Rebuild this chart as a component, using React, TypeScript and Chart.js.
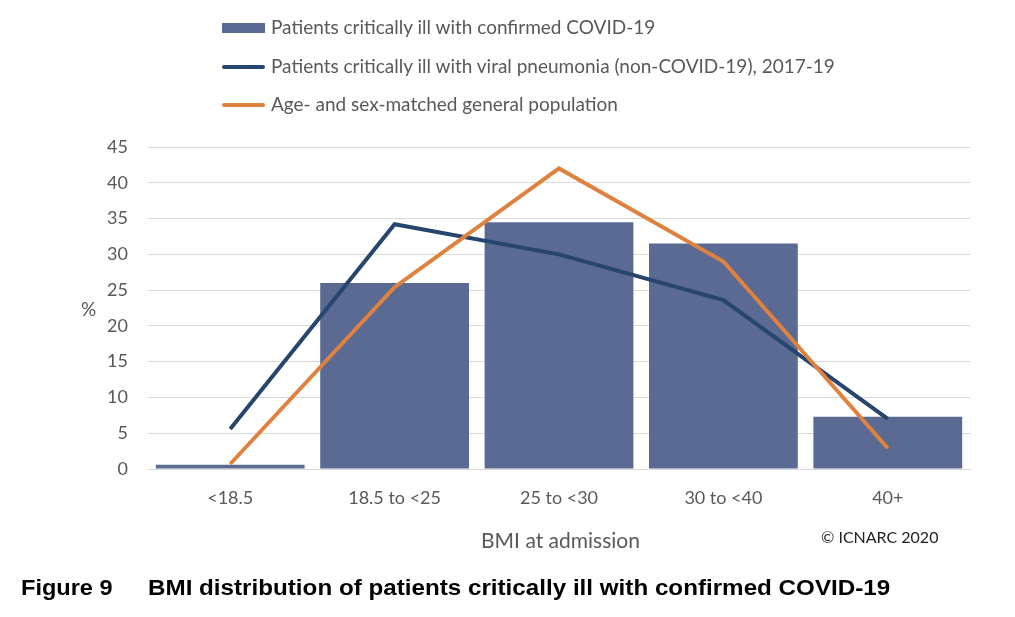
import React, { useEffect, useRef } from "react";
import { Chart, registerables } from "chart.js";

Chart.register(...registerables);

const categories = ["<18.5", "18.5 to <25", "25 to <30", "30 to <40", "40+"];
const covidValues = [0.6, 26.0, 34.5, 31.5, 7.3];
const viralPneumoniaValues = [5.6, 34.2, 30.0, 23.6, 7.0];
const generalPopulationValues = [0.7, 25.4, 42.0, 29.0, 2.9];
const yTicks = [0, 5, 10, 15, 20, 25, 30, 35, 40, 45];

const seriesNames = [
  "Patients critically ill with confirmed COVID-19",
  "Patients critically ill with viral pneumonia (non-COVID-19), 2017-19",
  "Age- and sex-matched general population",
];

const BAR_COLOR = "#5a6a93";
const BLUE_COLOR = "#28456e";
const ORANGE_COLOR = "#e0823f";
const TEXT_COLOR = "#595959";
const FONT = "Lato, 'Open Sans', sans-serif";

export default function App() {
  const canvasRef = useRef<HTMLCanvasElement | null>(null);

  useEffect(() => {
    document.body.style.margin = "0";
    const canvas = canvasRef.current;
    if (!canvas) return;
    const chart = new Chart(canvas, {
      type: "bar",
      data: {
        labels: categories,
        datasets: [
          {
            type: "line",
            label: seriesNames[2],
            data: generalPopulationValues,
            borderColor: ORANGE_COLOR,
            backgroundColor: ORANGE_COLOR,
            borderWidth: 4,
            pointRadius: 0,
            tension: 0,
            order: 1,
          } as any,
          {
            type: "line",
            label: seriesNames[1],
            data: viralPneumoniaValues,
            borderColor: BLUE_COLOR,
            backgroundColor: BLUE_COLOR,
            borderWidth: 4,
            pointRadius: 0,
            tension: 0,
            order: 2,
          } as any,
          {
            type: "bar",
            label: seriesNames[0],
            data: covidValues,
            backgroundColor: BAR_COLOR,
            barPercentage: 0.905,
            categoryPercentage: 1,
            order: 3,
          },
        ],
      },
      options: {
        responsive: false,
        animation: false,
        maintainAspectRatio: false,
        layout: { padding: { left: 88, right: 45, top: 147, bottom: 108 } },
        plugins: { legend: { display: false }, tooltip: { enabled: false } },
        scales: {
          x: {
            grid: { display: false, drawTicks: false },
            border: { display: true, color: "#d9d9d9", width: 1 },
            ticks: {
              color: TEXT_COLOR,
              font: { family: FONT, size: 18 },
              padding: 18,
              maxRotation: 0,
            },
            afterFit: (scale: any) => {
              scale.height = 40;
            },
          },
          y: {
            min: 0,
            max: 45,
            afterBuildTicks: (scale: any) => {
              scale.ticks = yTicks.map((v) => ({ value: v }));
            },
            grid: { color: "#d9d9d9", lineWidth: 1, drawTicks: false },
            border: { display: false },
            ticks: {
              color: TEXT_COLOR,
              font: { family: FONT, size: 18 },
              padding: 20,
            },
            afterFit: (scale: any) => {
              scale.width = 60;
            },
          },
        },
      },
    });
    return () => chart.destroy();
  }, []);

  const legendRow = (i: number, top: number) => (
    <div key={i} style={{ position: "absolute", left: 0, top: top, height: 30 }}>
      <div
        style={{
          position: "absolute",
          left: 222,
          top: i === 0 ? 10 : 13,
          width: 43,
          height: i === 0 ? 10 : 4,
          background: i === 0 ? BAR_COLOR : i === 1 ? BLUE_COLOR : ORANGE_COLOR,
          borderRadius: i === 0 ? 0 : 2,
        }}
      />
      <span
        style={{
          position: "absolute",
          left: 271,
          top: 2,
          whiteSpace: "nowrap",
          fontFamily: FONT,
          fontSize: 19,
          color: TEXT_COLOR,
          lineHeight: "24px",
        }}
      >
        {seriesNames[i]}
      </span>
    </div>
  );

  return (
    <div style={{ position: "relative", width: 1015, height: 617, background: "#fff", overflow: "hidden" }}>
      <canvas ref={canvasRef} width={1015} height={617} style={{ position: "absolute", left: 0, top: 0 }} />
      {legendRow(0, 13)}
      {legendRow(1, 52)}
      {legendRow(2, 90)}
      <div
        style={{
          position: "absolute",
          left: 81,
          top: 297,
          fontFamily: FONT,
          fontSize: 19,
          color: TEXT_COLOR,
        }}
      >
        %
      </div>
      <div
        style={{
          position: "absolute",
          left: 0,
          width: 1121,
          top: 527,
          textAlign: "center",
          fontFamily: FONT,
          fontSize: 21,
          color: TEXT_COLOR,
          lineHeight: "26px",
        }}
      >
        BMI at admission
      </div>
      <div
        style={{
          position: "absolute",
          left: 821,
          top: 527,
          fontFamily: FONT,
          fontSize: 16,
          color: "#222",
          lineHeight: "20px",
          whiteSpace: "nowrap",
        }}
      >
        © ICNARC 2020
      </div>
      <div
        style={{
          position: "absolute",
          left: 21,
          top: 575,
          fontFamily: "'Liberation Sans', Arial, sans-serif",
          fontWeight: "bold",
          fontSize: 22,
          color: "#000",
          lineHeight: "26px",
          whiteSpace: "nowrap",
          transform: "scaleX(1.07)",
          transformOrigin: "left center",
        }}
      >
        Figure 9
      </div>
      <div
        style={{
          position: "absolute",
          left: 148,
          top: 575,
          fontFamily: "'Liberation Sans', Arial, sans-serif",
          fontWeight: "bold",
          fontSize: 22,
          color: "#000",
          lineHeight: "26px",
          whiteSpace: "nowrap",
          transform: "scaleX(1.1)",
          transformOrigin: "left center",
        }}
      >
        BMI distribution of patients critically ill with confirmed COVID-19
      </div>
    </div>
  );
}
